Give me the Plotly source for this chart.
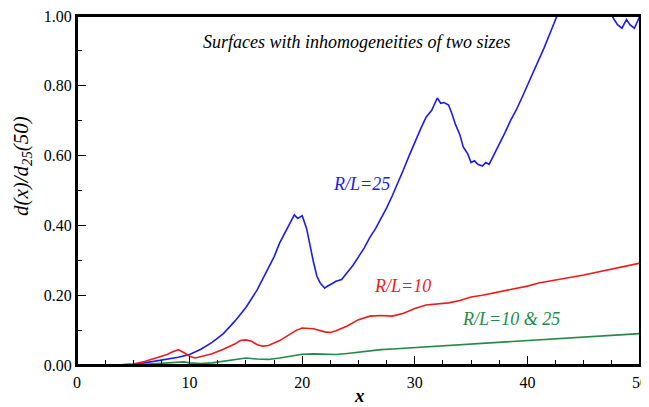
import plotly.graph_objects as go

# R/L = 25 (blue)
x_blue = [3.5, 5, 6, 7, 8, 9, 10, 11, 12, 13, 14, 15, 16, 17, 17.5, 18, 18.5, 19, 19.3, 19.6, 20, 20.4, 20.7, 21, 21.3,
          21.6, 22, 22.2, 22.6, 23, 23.5, 24, 24.5, 25, 25.5, 26, 26.5, 27, 27.5, 28, 28.5, 29, 29.5, 30, 30.5, 31,
          31.5, 32, 32.3, 32.6, 33, 33.3, 33.6, 34, 34.3, 34.7, 35, 35.3, 35.6, 36, 36.3, 36.6, 37, 37.5, 38, 38.5,
          39, 39.5, 40, 40.5, 41, 41.5, 42, 42.5, 43, None, 47.2, 47.6, 48.0, 48.4, 48.8, 49.1, 49.5, 49.8, 50]
y_blue = [0, 0.002, 0.006, 0.011, 0.017, 0.022, 0.03, 0.045, 0.065, 0.09, 0.125, 0.165, 0.215, 0.28, 0.31, 0.35,
          0.38, 0.41, 0.43, 0.42, 0.428, 0.39, 0.34, 0.295, 0.255, 0.235, 0.22, 0.225, 0.232, 0.24, 0.245, 0.265,
          0.285, 0.31, 0.335, 0.365, 0.39, 0.42, 0.45, 0.485, 0.52, 0.56, 0.6, 0.64, 0.675, 0.71, 0.73, 0.765, 0.75,
          0.752, 0.745, 0.72, 0.69, 0.66, 0.625, 0.605, 0.58, 0.585, 0.575, 0.57, 0.58, 0.575, 0.6, 0.635, 0.665,
          0.7, 0.73, 0.765, 0.8, 0.835, 0.87, 0.91, 0.95, 0.99, 1.03, None, 1.03, 0.995, 0.975, 0.965, 0.99,
          0.975, 0.965, 0.985, 1.0]

# R/L = 10 (red)
x_red = [3.5, 5, 6, 7, 8, 8.5, 9, 9.5, 10, 10.5, 11, 12, 13, 14, 14.5, 15, 15.5, 16, 16.5, 17, 18, 19, 19.5, 20,
         21, 22, 22.5, 23, 24, 25, 26, 27, 28, 29, 30, 31, 32, 33, 34, 35, 36, 37, 38, 39, 40, 41, 42, 43, 44, 45,
         46, 47, 48, 49, 50]
y_red = [0, 0.003, 0.01, 0.02, 0.03, 0.038, 0.044, 0.035, 0.025, 0.02, 0.024, 0.032, 0.045, 0.06, 0.07, 0.072,
         0.068, 0.058, 0.054, 0.056, 0.07, 0.09, 0.1, 0.106, 0.104, 0.095, 0.093, 0.098, 0.112, 0.13, 0.14, 0.142,
         0.14, 0.148, 0.162, 0.172, 0.175, 0.178, 0.185, 0.195, 0.2, 0.206, 0.213, 0.22, 0.226, 0.235, 0.24, 0.245,
         0.252, 0.258, 0.265, 0.27, 0.278, 0.285, 0.292]

# R/L = 10 & 25 (green)
x_green = [5, 6, 7, 8, 9, 9.5, 10, 11, 12, 13, 14, 15, 16, 17, 18, 19, 20, 21, 22, 23, 24, 25, 26, 27, 28, 29, 30,
           31, 32, 33, 34, 35, 36, 37, 38, 39, 40, 41, 42, 43, 44, 45, 46, 47, 48, 49, 50]
y_green = [0, 0.002, 0.005, 0.008, 0.01, 0.009, 0.006, 0.004, 0.006, 0.01, 0.015, 0.02, 0.017, 0.016, 0.02,
           0.026, 0.031, 0.032, 0.03, 0.03, 0.033, 0.037, 0.041, 0.044, 0.046, 0.048, 0.05, 0.052, 0.054, 0.056,
           0.058, 0.061, 0.063, 0.065, 0.067, 0.069, 0.07, 0.072, 0.074, 0.076, 0.078, 0.08, 0.082, 0.084, 0.086,
           0.088, 0.09]

x_ticks = [0, 10, 20, 30, 40, 50]
y_ticks = [0.0, 0.2, 0.4, 0.6, 0.8, 1.0]
y_tick_labels = ["0.00", "0.20", "0.40", "0.60", "0.80", "1.00"]

BLUE = "#1c1ce8"
RED = "#f01a1a"
GREEN = "#228a44"
FONT = "Liberation Serif"

fig = go.Figure()
fig.add_trace(go.Scatter(x=x_blue, y=y_blue, mode="lines", line=dict(color=BLUE, width=1.6), connectgaps=False))
fig.add_trace(go.Scatter(x=x_red, y=y_red, mode="lines", line=dict(color=RED, width=1.6)))
fig.add_trace(go.Scatter(x=x_green, y=y_green, mode="lines", line=dict(color=GREEN, width=1.6)))

fig.add_annotation(x=24.9, y=0.925, text="<i>Surfaces with inhomogeneities of two sizes</i>",
                   showarrow=False, font=dict(family=FONT, size=18, color="black"))
fig.add_annotation(x=25.3, y=0.518, text="<i>R/L=25</i>", showarrow=False,
                   font=dict(family=FONT, size=18, color=BLUE))
fig.add_annotation(x=28.95, y=0.226, text="<i>R/L=10</i>", showarrow=False,
                   font=dict(family=FONT, size=18, color=RED))
fig.add_annotation(x=38.5, y=0.132, text="<i>R/L=10 &amp; 25</i>", showarrow=False,
                   font=dict(family=FONT, size=18, color=GREEN))
# axis titles
fig.add_annotation(x=25.1, y=0, yref="y", yshift=-30, text="<b><i>x</i></b>", showarrow=False,
                   font=dict(family=FONT, size=19, color="black"))
fig.add_annotation(x=0, xref="x", y=0.57, xshift=-55, textangle=-90,
                   text="<i>d(x)/d<sub>25</sub>(50)</i>", showarrow=False,
                   font=dict(family=FONT, size=21, color="black"))

# plot frame
fig.add_shape(type="rect", xref="paper", yref="paper", x0=0, x1=1, y0=0, y1=1,
              line=dict(color="black", width=2), layer="above")

axis_common = dict(showgrid=False, zeroline=False, showline=True, linecolor="black", linewidth=2,
                   mirror=True, ticks="inside", tickcolor="black", tickwidth=1, automargin=False,
                   ticklabeloverflow="allow",
                   tickfont=dict(family=FONT, size=16, color="black"))

fig.update_xaxes(range=[0, 50], tickvals=x_ticks, ticklen=9, ticklabelstandoff=2,
                 minor=dict(dtick=2.5, tick0=0, ticklen=5, ticks="inside", tickcolor="black", tickwidth=1),
                 **axis_common)
fig.update_yaxes(range=[0, 1], tickvals=y_ticks, ticktext=y_tick_labels, ticklen=9,
                 minor=dict(dtick=0.1, tick0=0, ticklen=5, ticks="inside", tickcolor="black", tickwidth=1),
                 **axis_common)

fig.update_layout(width=641, height=399, margin=dict(l=69, r=9, t=8, b=42),
                  paper_bgcolor="white", plot_bgcolor="white", showlegend=False)

fig.write_html("out.html")
